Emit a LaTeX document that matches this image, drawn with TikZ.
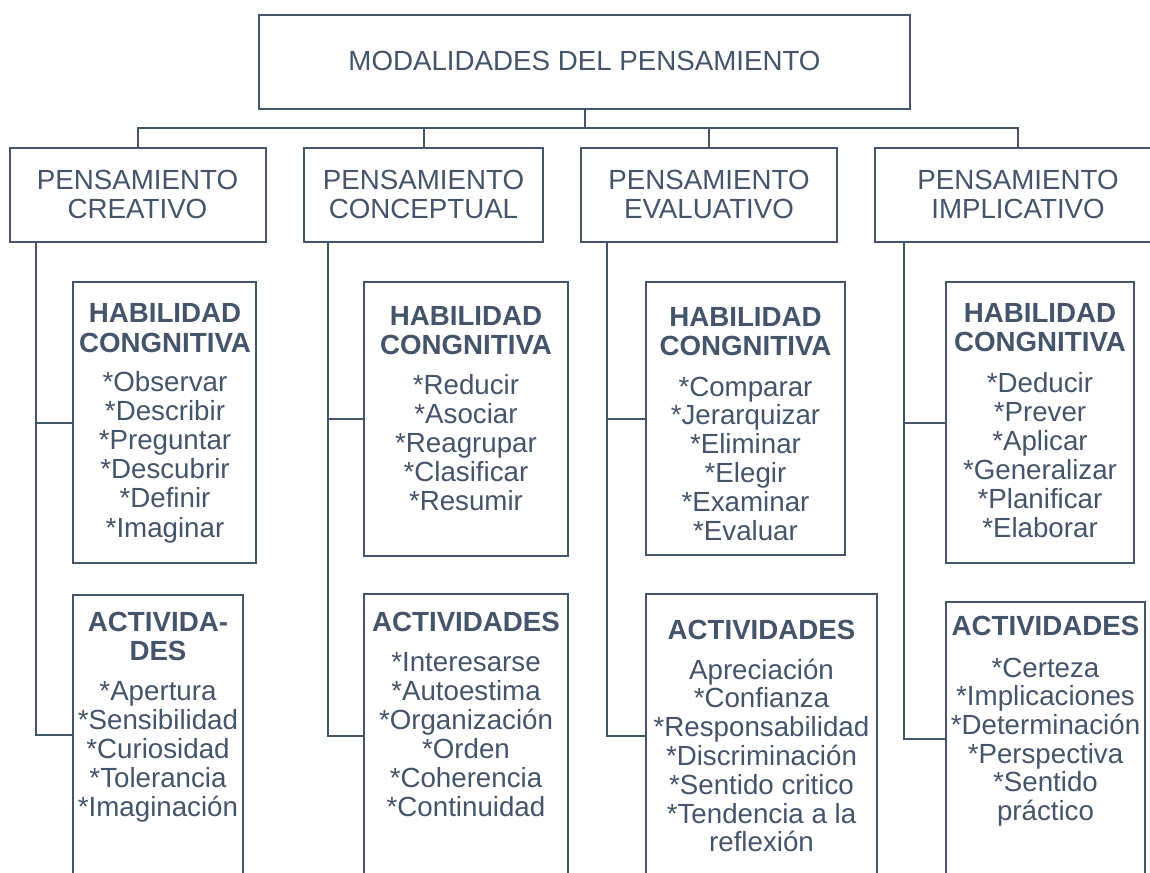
\documentclass[tikz,border=0pt]{standalone}
\usepackage{fontspec}
\setmainfont{Liberation Sans}
\usetikzlibrary{calc}
\definecolor{slate}{HTML}{44546A}
% #1 style, #2 name prefix, #3 x, #4 first baseline y, #5 pitch, #6 lines
\newcommand\txtstack[6]{%
  \foreach \itm [count=\i] in {#6} {%
    \node[#1] (#2-\i) at (#3, {#4+(\i-1)*#5}) {\itm};}}
\begin{document}
\begin{tikzpicture}[x=1pt,y=-1pt,
  box/.style={draw=slate, line width=2pt, rectangle, inner sep=0pt},
  link/.style={draw=slate, line width=2pt},
  txt/.style={anchor=base, inner sep=0pt, text=slate, font=\fontsize{27.7}{29}\selectfont},
  hdr/.style={anchor=base, inner sep=0pt, text=slate, font=\fontsize{27.7}{29}\selectfont\bfseries}]
\useasboundingbox (0,0) rectangle (1150,872);
\fill[white] (0,0) rectangle (1150,872);

% boxes
\node[box, minimum width=651pt, minimum height=94pt] (top) at (584.5,62) {};
\node[box, minimum width=256pt, minimum height=94pt] (c1) at (138,195) {};
\node[box, minimum width=239pt, minimum height=94pt] (c2) at (423.5,195) {};
\node[box, minimum width=256pt, minimum height=94pt] (c3) at (709,195) {};
\node[box, minimum width=286pt, minimum height=94pt] (c4) at (1018,195) {};

\node[box, minimum width=183pt, minimum height=281pt] (h1) at (164.5,422.5) {};
\node[box, minimum width=204pt, minimum height=274pt] (h2) at (466,419) {};
\node[box, minimum width=199pt, minimum height=273pt] (h3) at (745.5,418.5) {};
\node[box, minimum width=188pt, minimum height=281pt] (h4) at (1040,422.5) {};

\node[box, minimum width=170pt, minimum height=280pt] (a1) at (158,735) {};
\node[box, minimum width=204pt, minimum height=284pt] (a2) at (466,736) {};
\node[box, minimum width=231pt, minimum height=284pt] (a3) at (761.5,736) {};
\node[box, minimum width=199pt, minimum height=274pt] (a4) at (1045.5,739) {};

% tree connectors
\coordinate (bus) at (0,128);
\draw[link] (top.south) -- (top.south |- bus);
\draw[link] (c1.north) -- (c1.north |- bus) -- (c4.north |- bus) -- (c4.north);
\draw[link] (c2.north) -- (c2.north |- bus);
\draw[link] (c3.north) -- (c3.north |- bus);

\coordinate (s1) at (36,242);
\coordinate (s2) at (328,242);
\coordinate (s3) at (607,242);
\coordinate (s4) at (904,242);
\foreach \k in {1,2,3,4}{
  \draw[link] (s\k) |- (a\k.west);
  \draw[link] (h\k.west) -- (h\k.west -| s\k);
}

% texts
\node[txt] (toptext) at (584.5,71) {MODALIDADES DEL PENSAMIENTO};
\txtstack{txt}{c1t}{137.5}{189}{29}{PENSAMIENTO,CREATIVO}
\txtstack{txt}{c2t}{423.5}{189}{29}{PENSAMIENTO,CONCEPTUAL}
\txtstack{txt}{c3t}{709}{189}{29}{PENSAMIENTO,EVALUATIVO}
\txtstack{txt}{c4t}{1018}{189}{29}{PENSAMIENTO,IMPLICATIVO}

\txtstack{hdr}{h1h}{165}{322.7}{29.3}{HABILIDAD,CONGNITIVA}
\txtstack{txt}{h1i}{165}{391}{29.2}{*Observar,*Describir,*Preguntar,*Descubrir,*Definir,*Imaginar}
\txtstack{hdr}{h2h}{466}{325}{29.3}{HABILIDAD,CONGNITIVA}
\txtstack{txt}{h2i}{466}{394}{29.2}{*Reducir,*Asociar,*Reagrupar,*Clasificar,*Resumir}
\txtstack{hdr}{h3h}{745.5}{326}{29.3}{HABILIDAD,CONGNITIVA}
\txtstack{txt}{h3i}{745.5}{396}{28.9}{*Comparar,*Jerarquizar,*Eliminar,*Elegir,*Examinar,*Evaluar}
\txtstack{hdr}{h4h}{1040}{322}{29.3}{HABILIDAD,CONGNITIVA}
\txtstack{txt}{h4i}{1040}{392}{29}{*Deducir,*Prever,*Aplicar,*Generalizar,*Planificar,*Elaborar}

\txtstack{hdr}{a1h}{158}{631}{29.3}{ACTIVIDA-,DES}
\txtstack{txt}{a1i}{158}{700}{29}{*Apertura,*Sensibilidad,*Curiosidad,*Tolerancia,*Imaginación}
\txtstack{hdr}{a2h}{466}{631}{29.3}{ACTIVIDADES}
\txtstack{txt}{a2i}{466}{671}{29.1}{*Interesarse,*Autoestima,*Organización,*Orden,*Coherencia,*Continuidad}
\txtstack{hdr}{a3h}{761.5}{639}{29.3}{ACTIVIDADES}
\txtstack{txt}{a3i}{761.5}{679}{28.8}{Apreciación,*Confianza,*Responsabilidad,*Discriminación,*Sentido critico,*Tendencia a la,reflexión}
\txtstack{hdr}{a4h}{1045.5}{635}{29.3}{ACTIVIDADES}
\txtstack{txt}{a4i}{1045.5}{677}{28.7}{*Certeza,*Implicaciones,*Determinación,*Perspectiva,*Sentido,práctico}
\end{tikzpicture}
\end{document}
